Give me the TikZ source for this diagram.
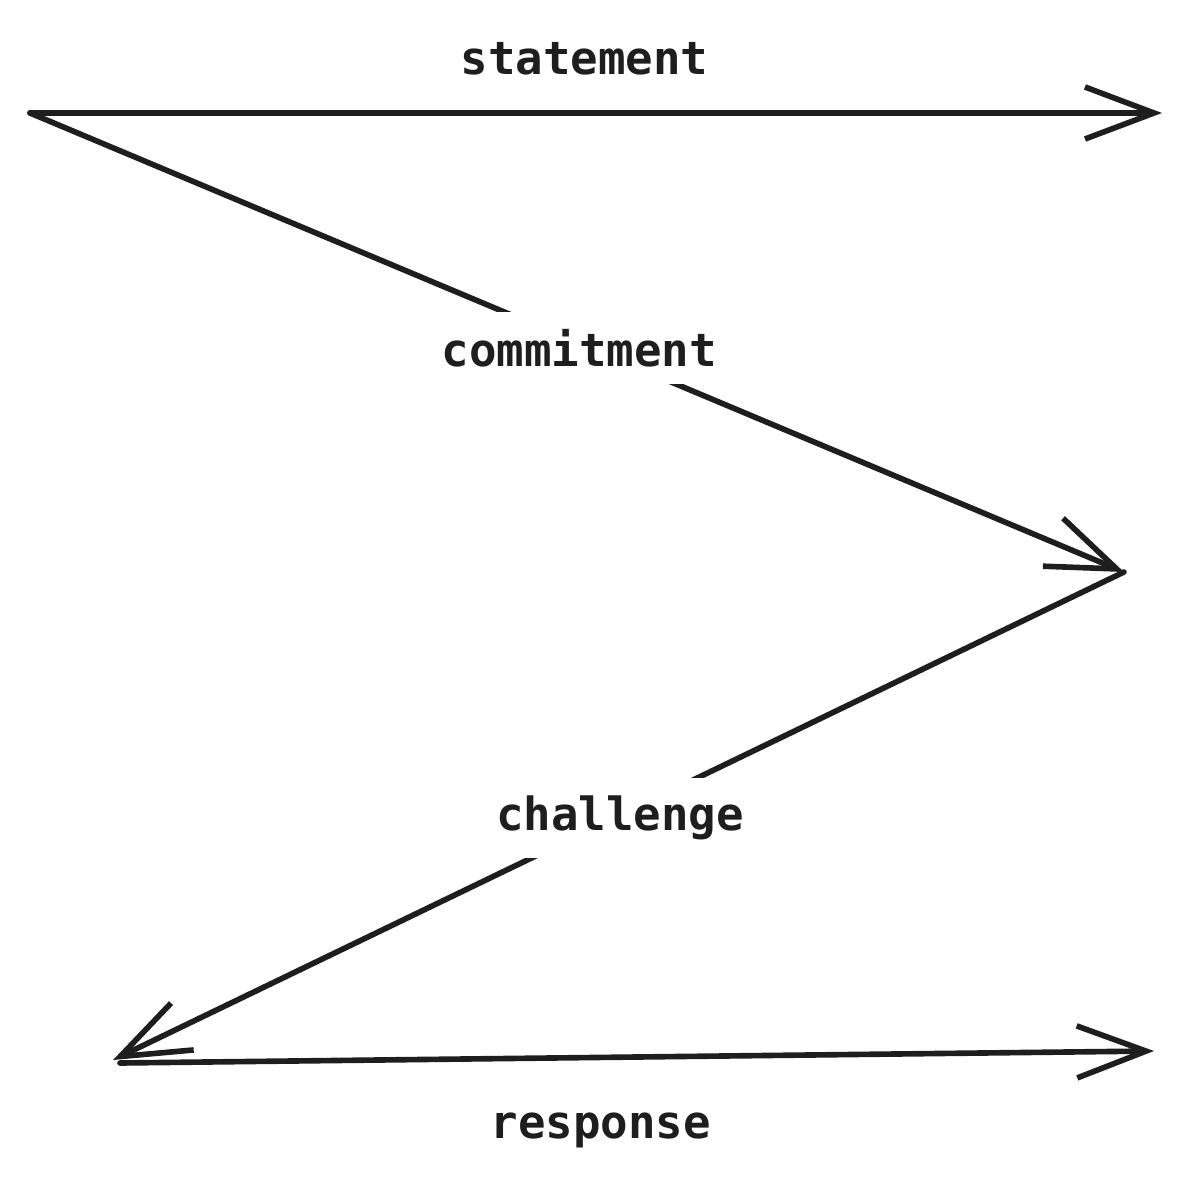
\documentclass[tikz,border=0pt]{standalone}
\usepackage{fontspec}
\setmonofont{DejaVu Sans Mono}
\usepackage{tikz}
\usetikzlibrary{arrows.meta}

\definecolor{ink}{HTML}{1E1E1E}

\begin{document}
\begin{tikzpicture}[
    x=0.01cm, y=-0.01cm,
    % Styles
    flow/.style={
        draw=ink, line width=1.6pt, line cap=round, line join=round,
        -{Straight Barb[length=0.69cm, width=0.52cm, line width=1.6pt]}
    },
    lbl/.style={
        font=\ttfamily\bfseries\fontsize{13}{15}\selectfont, text=ink,
        inner sep=0pt
    },
    cut/.style={lbl, fill=white, inner xsep=4pt, inner ysep=5pt}
]
\useasboundingbox (0,0) rectangle (1190,1181);

% === END POINTS ===
\coordinate (prover) at (30,113);
\coordinate (verifier) at (1162,113);
\coordinate (turn) at (1124,572);
\coordinate (back) at (113,1060);
\coordinate (respL) at (120,1063);
\coordinate (respR) at (1154,1051);

% === ARROWS ===
% Statement along the top
\draw [flow] (prover) -- node[lbl, pos=0.49, above=10pt] {statement} (verifier);
% Commitment, label breaks the line
\draw [flow] (prover) -- node[cut, pos=0.502, yshift=-1.3pt] {commitment} (turn);
% Challenge back to the left
\draw [flow] (turn) -- node[cut, pos=0.4985, yshift=-0.8pt] {challenge} (back);
% Response along the bottom
\draw [flow] (respL) -- node[lbl, pos=0.465, below=15pt] {response} (respR);

\end{tikzpicture}
\end{document}
